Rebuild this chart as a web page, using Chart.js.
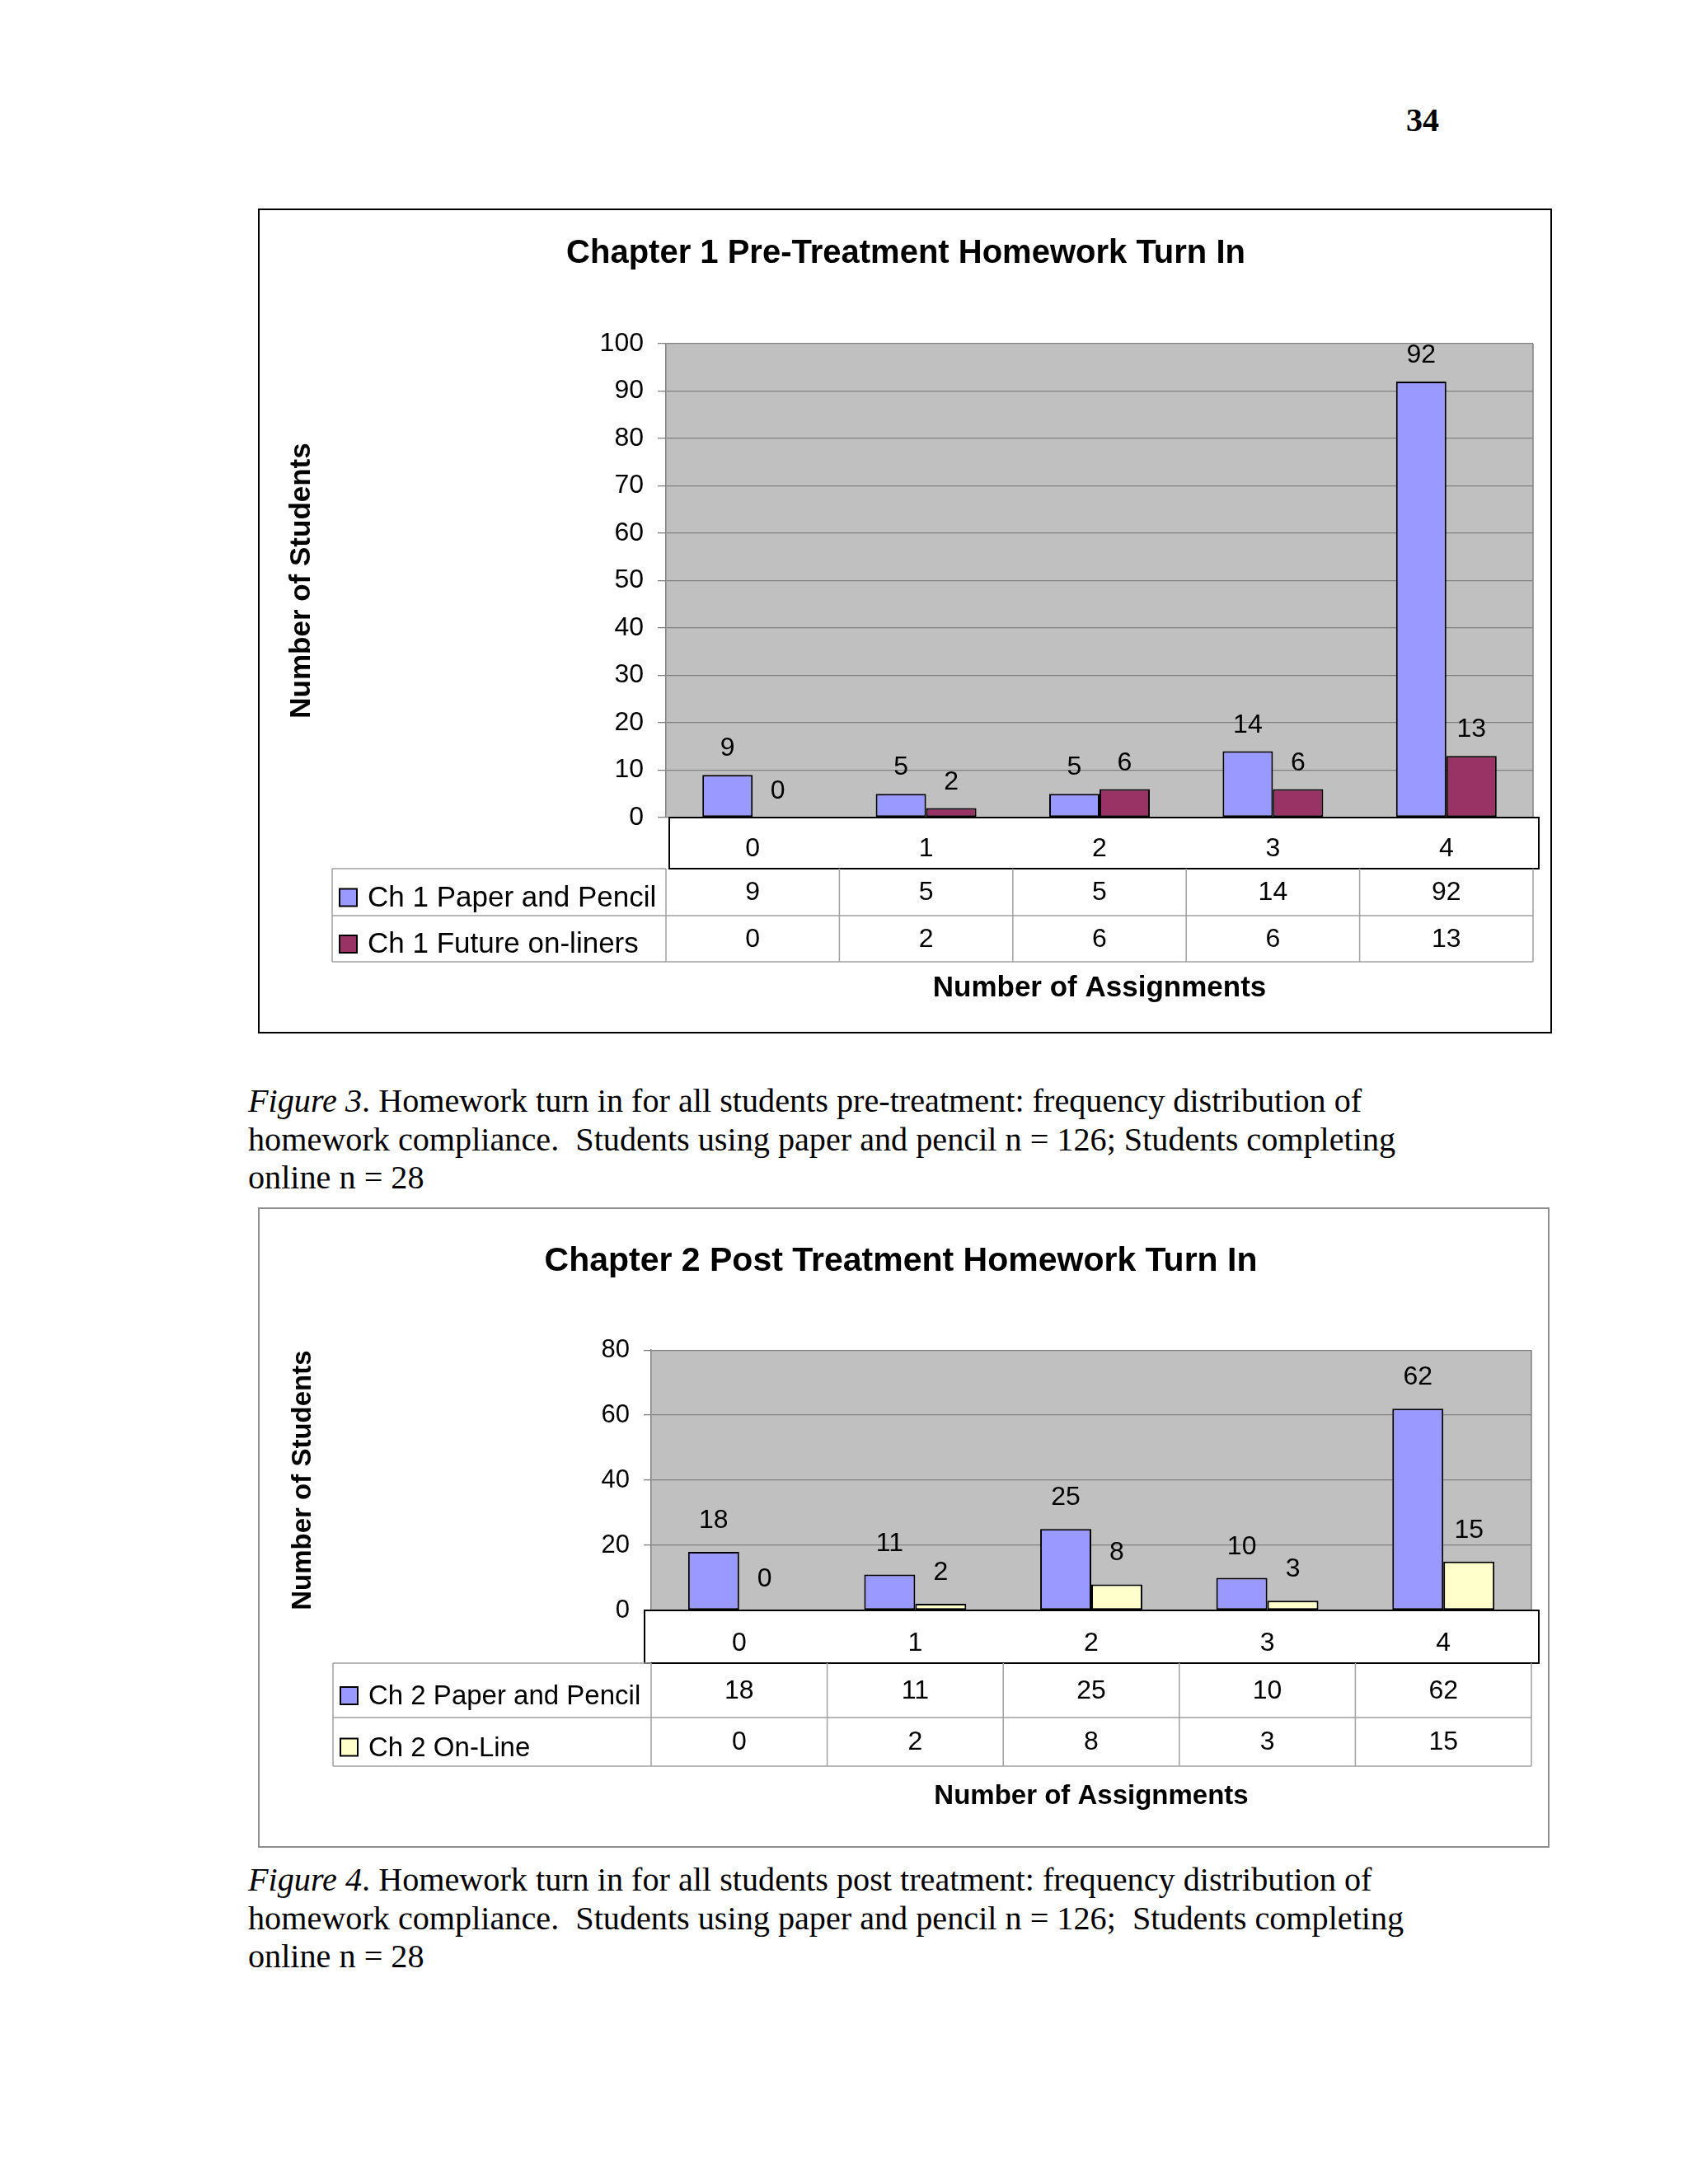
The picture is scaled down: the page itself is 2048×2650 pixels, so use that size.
<!DOCTYPE html>
<html>
<head>
<meta charset="utf-8">
<script src="https://cdn.jsdelivr.net/npm/chart.js@4.4.1/dist/chart.umd.min.js"></script>
<style>
  html, body { margin: 0; padding: 0; background: #fff; }
  #page { position: relative; width: 2048px; height: 2650px; background: #fff; overflow: hidden; }
  .box { position: absolute; box-sizing: border-box; background: #fff; }
  .box canvas { position: absolute; left: 0; top: 0; }
  .serif { position: absolute; font-family: "Liberation Serif", "Times New Roman", serif; color: #000; }
  .caption { font-size: 40.2px; line-height: 46.5px; white-space: nowrap; }
  .pagenum { font-size: 40px; font-weight: bold; }
</style>
</head>
<body>
<div id="page">
  <div class="serif pagenum" style="left:1706px; top:122px;">34</div>

  <div class="box" style="left:313px; top:253px; width:1570px; height:1001px; border:2px solid #000;">
    <canvas id="pre" width="1566" height="997"></canvas>
  </div>
  <div class="serif caption" style="left:301px; top:1313px;">
    <i>Figure 3</i>. Homework turn in for all students pre-treatment: frequency distribution of<br>
    homework compliance.&nbsp; Students using paper and pencil n = 126; Students completing<br>
    online n = 28
  </div>

  <div class="box" style="left:313px; top:1465px; width:1567px; height:777px; border:2px solid #8e8e8e;">
    <canvas id="post" width="1563" height="773"></canvas>
  </div>
  <div class="serif caption" style="left:301px; top:2258px;">
    <i>Figure 4</i>. Homework turn in for all students post treatment: frequency distribution of<br>
    homework compliance.&nbsp; Students using paper and pencil n = 126;&nbsp; Students completing<br>
    online n = 28
  </div>
</div>

<script>
// number of assignments turned in (categories)
var assignments = ["0", "1", "2", "3", "4"];

// chapter 1, pre-treatment
var ch1PaperPencil = [9, 5, 5, 14, 92];
var ch1FutureOnline = [0, 2, 6, 6, 13];

// chapter 2, post treatment
var ch2PaperPencil = [18, 11, 25, 10, 62];
var ch2OnLine = [0, 2, 8, 3, 15];

var SANS = "'Liberation Sans', Arial, Helvetica, sans-serif";

// grey plot area, white axis box, value labels and the data table under the chart
var docTable = {
    id: "docTable",
    beforeDraw: function (chart, args, o) {
        var ctx = chart.ctx, a = chart.chartArea;
        ctx.save();
        ctx.fillStyle = "#c0c0c0";
        ctx.fillRect(a.left, a.top, a.right - a.left, a.bottom - a.top);
        ctx.fillStyle = "#fff";
        ctx.fillRect(a.left + o.boxLeft, a.bottom, a.right + o.boxRight - a.left - o.boxLeft, o.boxHeight);
        ctx.restore();
    },
    afterDatasetsDraw: function (chart, args, o) {
        var ctx = chart.ctx, a = chart.chartArea;
        ctx.save();
        // right edge of the plot
        ctx.strokeStyle = "#808080";
        ctx.lineWidth = 1.5;
        ctx.beginPath();
        ctx.moveTo(a.right, a.top);
        ctx.lineTo(a.right, a.bottom);
        ctx.stroke();

        // values above bars
        ctx.fillStyle = "#000";
        ctx.font = o.valueSize + "px " + SANS;
        ctx.textAlign = "center";
        ctx.textBaseline = "alphabetic";
        chart.data.datasets.forEach(function (ds, i) {
            chart.getDatasetMeta(i).data.forEach(function (bar, j) {
                ctx.fillText(String(ds.data[j]), bar.x, bar.y - o.labelGap);
            });
        });

        // axis box outline
        ctx.strokeStyle = "#000";
        ctx.lineWidth = 2;
        ctx.strokeRect(a.left + o.boxLeft, a.bottom, a.right + o.boxRight - a.left - o.boxLeft, o.boxHeight);
        ctx.restore();
    },
    afterDraw: function (chart, args, o) {
        var ctx = chart.ctx, a = chart.chartArea, xs = chart.scales.x;
        var n = chart.data.labels.length;
        var cw = (xs.right - xs.left) / n;
        var top = a.bottom + o.boxHeight;
        var bottom = top + o.rowHeights[0] + o.rowHeights[1];
        var mid = top + o.rowHeights[0];
        ctx.save();
        ctx.strokeStyle = "#a0a0a0";
        ctx.lineWidth = 1.5;
        ctx.beginPath();
        ctx.moveTo(o.tableLeft, top); ctx.lineTo(a.left, top);
        ctx.moveTo(o.tableLeft, mid); ctx.lineTo(a.right, mid);
        ctx.moveTo(o.tableLeft, bottom); ctx.lineTo(a.right, bottom);
        ctx.moveTo(o.tableLeft, top); ctx.lineTo(o.tableLeft, bottom);
        for (var k = 0; k <= n; k++) {
            var xx = xs.left + k * cw;
            ctx.moveTo(xx, top); ctx.lineTo(xx, bottom);
        }
        ctx.stroke();

        var rowTop = top;
        chart.data.datasets.forEach(function (ds, i) {
            var h = o.rowHeights[i];
            var cy = rowTop + h / 2;
            // legend key
            ctx.fillStyle = ds.backgroundColor;
            ctx.fillRect(o.tableLeft + 9, cy - 4, 21, 21);
            ctx.strokeStyle = "#000";
            ctx.lineWidth = 2;
            ctx.strokeRect(o.tableLeft + 9, cy - 4, 21, 21);
            ctx.fillStyle = "#000";
            ctx.font = o.legendSize + "px " + SANS;
            ctx.textAlign = "left";
            ctx.textBaseline = "alphabetic";
            ctx.fillText(ds.label, o.tableLeft + 43, cy + 17);
            // values
            ctx.font = o.valueSize + "px " + SANS;
            ctx.textAlign = "center";
            ctx.textBaseline = "middle";
            ds.data.forEach(function (v, j) {
                ctx.fillText(String(v), xs.getPixelForValue(j), cy + 1);
            });
            rowTop += h;
        });
        ctx.restore();
    }
};

function makeChart(id, title, labels, datasets, yMax, yStep, look) {
    var ctx = document.getElementById(id).getContext("2d");
    return new Chart(ctx, {
        type: "bar",
        data: { labels: labels, datasets: datasets },
        plugins: [docTable],
        options: {
            responsive: false,
            animation: false,
            devicePixelRatio: 1,
            layout: { padding: { left: look.padLeft, right: look.padRight, top: 0, bottom: 0 } },
            datasets: {
                bar: {
                    categoryPercentage: look.catPct,
                    barPercentage: 1,
                    borderColor: "#000",
                    borderWidth: 2,
                    borderSkipped: false
                }
            },
            scales: {
                x: {
                    grid: { display: false, drawTicks: false },
                    border: { display: false },
                    ticks: { color: "#000", padding: look.xTickPad, autoSkip: false, maxRotation: 0,
                             font: { family: SANS, size: 32, lineHeight: 1.2 } },
                    title: { display: true, text: "Number of Assignments", color: "#000",
                             font: { family: SANS, size: look.axisTitleX, weight: "bold", lineHeight: 1 },
                             padding: { top: 0, bottom: look.xTitlePad } },
                    afterFit: function (s) { s.height = look.xHeight; }
                },
                y: {
                    min: 0,
                    max: yMax,
                    grid: { color: "#808080", lineWidth: 1.3, tickLength: look.tickLen, tickColor: "#808080" },
                    border: { display: true, color: "#808080", width: 1.5 },
                    ticks: { stepSize: yStep, color: "#000", padding: look.yTickPad,
                             font: { family: SANS, size: look.yTickSize } },
                    title: { display: true, text: "Number of Students", color: "#000",
                             font: { family: SANS, size: look.axisTitleY, weight: "bold", lineHeight: 1 },
                             padding: { top: look.yTitlePad, bottom: 0 } },
                    afterFit: function (s) { s.width = look.yWidth; }
                }
            },
            plugins: {
                legend: { display: false },
                tooltip: { enabled: false },
                title: {
                    display: true,
                    text: title,
                    color: "#000",
                    font: { family: SANS, size: look.titleSize, weight: "bold", lineHeight: 1.2 },
                    padding: { top: look.titleTop, bottom: look.titleBottom }
                },
                docTable: {
                    boxLeft: look.boxLeft,
                    boxRight: look.boxRight,
                    boxHeight: look.boxHeight,
                    tableLeft: look.tableLeft,
                    rowHeights: look.rowHeights,
                    labelGap: look.labelGap,
                    valueSize: 32,
                    legendSize: look.legendSize
                }
            }
        }
    });
}

document.addEventListener("DOMContentLoaded", function () {
    makeChart("pre", "Chapter 1 Pre-Treatment Homework Turn In", assignments, [
        { label: "Ch 1 Paper and Pencil", data: ch1PaperPencil, backgroundColor: "#9999ff" },
        { label: "Ch 1 Future on-liners", data: ch1FutureOnline, backgroundColor: "#993366" }
    ], 100, 10, {
        padLeft: 23, padRight: 21, yWidth: 470, xHeight: 260, catPct: 0.58,
        titleSize: 40, titleTop: 29, titleBottom: 85,
        axisTitleX: 35, xTitlePad: 35, axisTitleY: 35, yTitlePad: 11,
        yTickSize: 32, yTickPad: 17, tickLen: 10, xTickPad: 19,
        boxLeft: 4, boxRight: 7, boxHeight: 62, tableLeft: 88, rowHeights: [57, 56],
        labelGap: 23, legendSize: 35
    });

    makeChart("post", "Chapter 2 Post Treatment Homework Turn In", assignments, [
        { label: "Ch 2 Paper and Pencil", data: ch2PaperPencil, backgroundColor: "#9999ff" },
        { label: "Ch 2 On-Line", data: ch2OnLine, backgroundColor: "#ffffcc" }
    ], 80, 20, {
        padLeft: 13, padRight: 20, yWidth: 462, xHeight: 286, catPct: 0.58,
        titleSize: 41, titleTop: 39, titleBottom: 83,
        axisTitleX: 33, xTitlePad: 44, axisTitleY: 33, yTitlePad: 23,
        yTickSize: 31, yTickPad: 17, tickLen: 9, xTickPad: 21,
        boxLeft: -8, boxRight: 9, boxHeight: 64, tableLeft: 89, rowHeights: [66, 59],
        labelGap: 29, legendSize: 33
    });
});
</script>
</body>
</html>
